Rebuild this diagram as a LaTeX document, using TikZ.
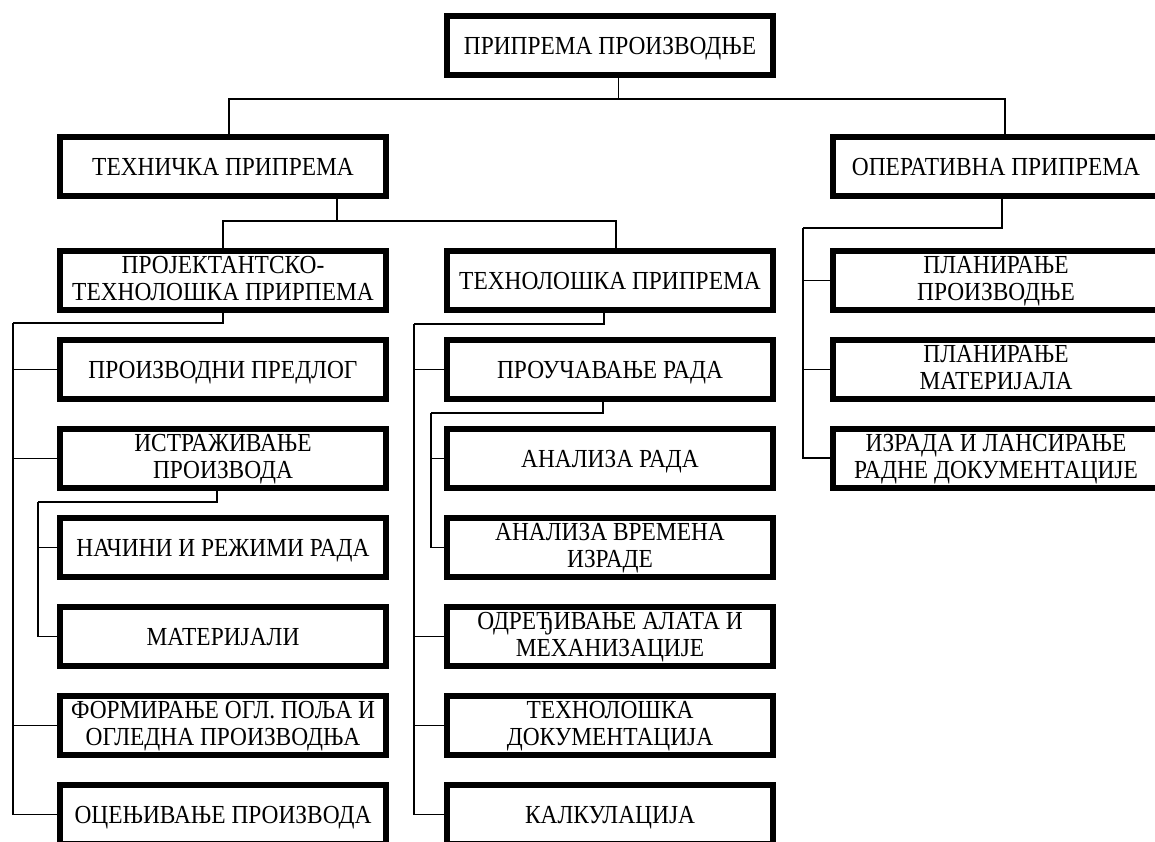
\documentclass[tikz,border=0pt]{standalone}
\usepackage{fontspec}
\setmainfont[FakeStretch=0.9]{Liberation Serif}
\begin{document}
\begin{tikzpicture}[x=1pt,y=-1pt,
  box/.style={draw, line width=6pt, minimum width=326pt, minimum height=59pt, inner sep=0pt, align=center, text height=18pt, text depth=0pt, font=\fontsize{26}{27}\selectfont},
  two/.style={box, text height=40pt},
  link/.style={line width=1.6pt}]
\useasboundingbox (0,0) rectangle (1155,842);
\node[box] (root) at (610,45.5) {ПРИПРЕМА ПРОИЗВОДЊЕ};
\node[box] (tech) at (223,167) {ТЕХНИЧКА ПРИПРЕМА};
\node[box] (oper) at (996,167) {ОПЕРАТИВНА ПРИПРЕМА};
\node[two] (proj) at (223,280.5) {ПРОЈЕКТАНТСКО-\\ТЕХНОЛОШКА ПРИРПЕМА};
\node[box] (tehn) at (610,280.5) {ТЕХНОЛОШКА ПРИПРЕМА};
\node[two] (plpr) at (996,280.5) {ПЛАНИРАЊЕ\\ПРОИЗВОДЊЕ};
\node[box] (pred) at (223,369.5) {ПРОИЗВОДНИ ПРЕДЛОГ};
\node[box] (prou) at (610,369.5) {ПРОУЧАВАЊЕ РАДА};
\node[two] (plmat) at (996,369.5) {ПЛАНИРАЊЕ\\МАТЕРИЈАЛА};
\node[two] (istr) at (223,458.5) {ИСТРАЖИВАЊЕ\\ПРОИЗВОДА};
\node[box] (anrad) at (610,458.5) {АНАЛИЗА РАДА};
\node[two] (izrada) at (996,458) {ИЗРАДА И ЛАНСИРАЊЕ\\РАДНЕ ДОКУМЕНТАЦИЈЕ};
\node[box] (nacini) at (223,547.5) {НАЧИНИ И РЕЖИМИ РАДА};
\node[two] (anvr) at (610,547.5) {АНАЛИЗА ВРЕМЕНА\\ИЗРАДЕ};
\node[box] (mat) at (223,636.5) {МАТЕРИЈАЛИ};
\node[two] (odr) at (610,636.5) {ОДРЕЂИВАЊЕ АЛАТА И\\МЕХАНИЗАЦИЈЕ};
\node[two] (form) at (223,725.5) {ФОРМИРАЊЕ ОГЛ. ПОЉА И\\ОГЛЕДНА ПРОИЗВОДЊА};
\node[two] (tdok) at (610,725.5) {ТЕХНОЛОШКА\\ДОКУМЕНТАЦИЈА};
\node[box] (ocen) at (223,814.5) {ОЦЕЊИВАЊЕ ПРОИЗВОДА};
\node[box] (kalk) at (610,814.5) {КАЛКУЛАЦИЈА};
% first level
\coordinate (topbus) at (618.5,99);
\draw[link] (topbus |- root.south) -- (topbus);
\draw[link] ([xshift=6pt]tech.north) |- (topbus) -| ([xshift=9pt]oper.north);
% technical branch
\coordinate (techbus) at (337,221);
\draw[link] (techbus |- tech.south) -- (techbus);
\draw[link] (proj.north) |- (techbus) -| ([xshift=6pt]tehn.north);
% operative branch
\coordinate (operbus) at (803,228);
\draw[link] ([xshift=6pt]oper.south) |- (operbus);
\foreach \n in {plpr,plmat,izrada} \draw[link] (operbus) |- (\n.west);
\coordinate (projbus) at (13,323);
\draw[link] (proj.south) |- (projbus);
\foreach \n in {pred,istr,form,ocen} \draw[link] (projbus) |- (\n.west);
\coordinate (istrbus) at (38,502);
\draw[link] ([xshift=-6pt]istr.south) |- (istrbus);
\foreach \n in {nacini,mat} \draw[link] (istrbus) |- (\n.west);
\coordinate (tehnbus) at (414,324);
\draw[link] ([xshift=-6pt]tehn.south) |- (tehnbus);
\foreach \n in {prou,odr,tdok,kalk} \draw[link] (tehnbus) |- (\n.west);
\coordinate (proubus) at (431,413);
\draw[link] ([xshift=-7pt]prou.south) |- (proubus);
\foreach \n in {anrad,anvr} \draw[link] (proubus) |- (\n.west);
\end{tikzpicture}
\end{document}
